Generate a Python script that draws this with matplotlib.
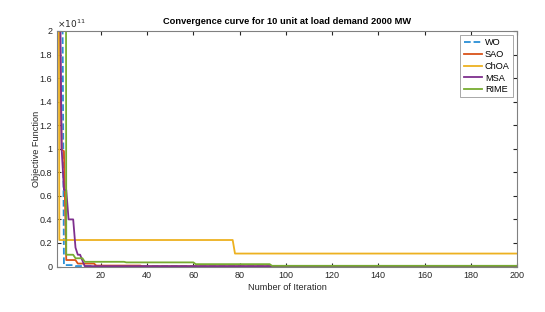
import numpy as np
import matplotlib.pyplot as plt
from matplotlib.ticker import FuncFormatter

# convergence values in units of 1e11, given as step levels and run lengths (iterations)
wo_vals = [15, 10, 3.5, 0.012, 0.004, 0.002]
wo_runs = [1, 1, 1, 5, 12, 180]
sao_vals = [9, 2.3, 0.99, 0.98, 0.055, 0.025, 0.008, 0.002]
sao_runs = [1, 1, 1, 1, 5, 8, 20, 163]
choa_vals = [10, 0.225, 0.11]
choa_runs = [1, 76, 123]
msa_vals = [8, 3.0, 1.0, 0.65, 0.4, 0.16, 0.1, 0.05, 0.003]
msa_runs = [1, 1, 1, 2, 3, 1, 2, 1, 188]
rime_vals = [25, 22, 21, 20, 0.1, 0.07, 0.04, 0.035, 0.02, 0.006]
rime_runs = [1, 1, 1, 1, 4, 4, 18, 30, 33, 107]

labels = ['WO', 'SAO', 'ChOA', 'MSA', 'RIME']
colors = ['#2A8FD6', '#D95319', '#EDB120', '#7E2F8E', '#77AC30']
styles = ['--', '-', '-', '-', '-']
series = [(wo_vals, wo_runs), (sao_vals, sao_runs), (choa_vals, choa_runs),
          (msa_vals, msa_runs), (rime_vals, rime_runs)]

plt.rcParams['font.family'] = ['Liberation Sans', 'DejaVu Sans']
gray = '#262626'

fig = plt.figure(figsize=(5.45, 3.12), dpi=100)
ax = fig.add_axes([0.1046, 0.1458, 0.844, 0.755])

for (v, r), lab, c, ls in zip(series, labels, colors, styles):
    y = np.repeat(v, r) * 1e11
    it = np.arange(1, len(y) + 1)
    ax.plot(it, y, ls, color=c, lw=1.3, label=lab)

ax.set_xlim(1, 200)
ax.set_ylim(0, 2e11)
ax.set_xticks(np.arange(20, 201, 20))
ax.set_yticks(np.arange(0, 2.01e11, 0.2e11))
ax.yaxis.set_major_formatter(FuncFormatter(lambda v, p: '%g' % round(v / 1e11, 2)))
ax.text(0.0, 1.005, r'$\times10^{11}$', transform=ax.transAxes, fontsize=6.5,
        color=gray, ha='left', va='bottom')

ax.tick_params(direction='in', length=3, width=0.8, labelsize=6.5, colors=gray,
               top=True, right=True)
for s in ax.spines.values():
    s.set_color('#808080')
    s.set_linewidth(0.8)

ax.set_title('Convergence curve for 10 unit at load demand 2000 MW',
             fontsize=6.7, fontweight='bold', pad=5)
ax.set_xlabel('Number of Iteration', fontsize=6.6, color=gray, labelpad=2)
ax.set_ylabel('Objective Function', fontsize=6.6, color=gray, labelpad=-1)

leg = ax.legend(loc='upper right', fontsize=6.6, frameon=True, fancybox=False,
                handlelength=2.0, borderpad=0.35, labelspacing=0.3,
                handletextpad=0.3, borderaxespad=0.45)
leg.get_frame().set_edgecolor('#808080')
leg.get_frame().set_linewidth(0.6)

fig.savefig('out.png', dpi=100)
